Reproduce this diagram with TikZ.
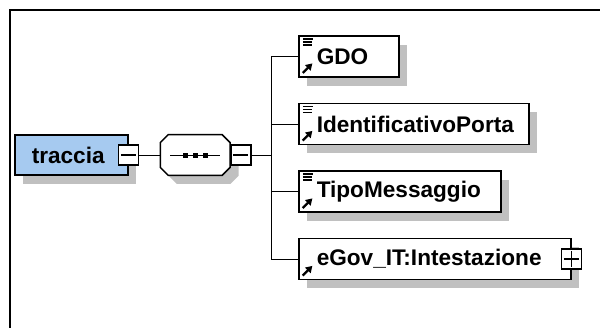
\documentclass[tikz,border=0pt]{standalone}
\usepackage{fontspec}
\setsansfont{Liberation Sans}
\usepackage{tikz}
\usetikzlibrary{shadows, arrows.meta, positioning}
\definecolor{rootblue}{RGB}{166,202,240}
\definecolor{shadowgray}{RGB}{192,192,192}
\newcommand{\refarrow}{\draw[line width=1.2pt, -{Triangle[length=3.2pt, width=3.8pt]}] ([shift={(2pt,2pt)}]path picture bounding box.south west) -- ++(4.8pt,4.8pt);}
\newcommand{\simplelines}{\foreach \dy/\len in {1.4/5,3/4.5,4.6/4.5} \draw[line width=0.75pt] ([shift={(2pt,-\dy pt)}]path picture bounding box.north west) -- ++(\len pt,0pt);}
\tikzset{
  xsdshadow/.style={drop shadow={shadow xshift=4.25pt, shadow yshift=-4.25pt, fill=shadowgray, opacity=1}},
  xsdfont/.style={font=\sffamily\bfseries\fontsize{11.3}{13}\selectfont},
  rootbox/.style={rectangle, draw, line width=0.75pt, fill=rootblue, minimum height=20pt, text width=39.5pt, inner xsep=8.5pt, align=left, xsdfont, xsdshadow},
  elembox/.style={rectangle, draw, line width=0.75pt, fill=white, minimum height=20.5pt, text width=#1, inner xsep=9pt, align=left, xsdfont, xsdshadow},
  simpleelem/.style={elembox=#1, path picture={\simplelines\refarrow}},
  refelem/.style={elembox=#1, path picture={\refarrow}},
  seqbox/.style={rectangle, minimum width=34.5pt, minimum height=20pt, inner sep=0pt},
  seqline/.style={draw, line width=0.75pt, fill=white, xsdshadow},
  togglebox/.style={rectangle, draw, line width=0.75pt, fill=white, minimum size=10pt, inner sep=0pt},
  minusbox/.style={togglebox, path picture={\draw[line width=0.6pt] ([xshift=1.2pt]path picture bounding box.west) -- ([xshift=-1.2pt]path picture bounding box.east);}},
  plusbox/.style={togglebox, path picture={
    \draw[line width=0.6pt] ([xshift=1.2pt]path picture bounding box.west) -- ([xshift=-1.2pt]path picture bounding box.east);
    \draw[line width=0.6pt] ([yshift=-1.2pt]path picture bounding box.north) -- ([yshift=1.2pt]path picture bounding box.south);}},
  conn/.style={line width=0.5pt},
}
\begin{document}
\begin{tikzpicture}[x=0.5pt, y=-0.5pt]
  \useasboundingbox (0,0) rectangle (600,327);
  % outer frame
  \draw[line width=1pt] (10,340) |- (610,10);

  % root element and sequence
  \node[rootbox, anchor=west] (traccia) at (14,155) {traccia};
  \node[minusbox] (tracciaminus) at (traccia.east) {};
  \node[seqbox, right=10.5pt of tracciaminus] (seq) {};
  \draw[seqline] ([xshift=4pt]seq.north west) -- ([xshift=-4pt]seq.north east) -- ([yshift=-4pt]seq.north east)
    -- ([yshift=4pt]seq.south east) -- ([xshift=-4pt]seq.south east) -- ([xshift=4pt]seq.south west)
    -- ([yshift=4pt]seq.south west) -- ([yshift=-4pt]seq.north west) -- cycle;
  \node[minusbox, right=0pt of seq] (seqminus) {};
  \draw[conn] ([xshift=-12.5pt]seq.center) -- ([xshift=12.5pt]seq.center);
  \foreach \dx in {-5,0,5}
    \fill ([xshift=\dx pt]seq.center) +(-1.25pt,-1.25pt) rectangle +(1.25pt,1.25pt);

  % child elements
  \node[simpleelem=32pt, anchor=west] (gdo) at (298,56.5) {GDO};
  \node[simpleelem=97pt, below=12.5pt of gdo.south west, anchor=north west] (porta) {IdentificativoPorta};
  \node[simpleelem=83pt, below=12.5pt of porta.south west, anchor=north west] (tipo) {TipoMessaggio};
  \node[refelem=118pt, below=12.5pt of tipo.south west, anchor=north west] (intest) {eGov\_IT:Intestazione};
  \node[plusbox] (intestplus) at (intest.east) {};

  % connectors
  \draw[conn] (tracciaminus.east) -- (seq.west);
  \coordinate (fork) at ([xshift=10pt]seqminus.east);
  \draw[conn] (seqminus.east) -- (fork);
  \foreach \n in {gdo, porta, tipo, intest}
    \draw[conn] (\n.west) -| (fork);
\end{tikzpicture}
\end{document}
